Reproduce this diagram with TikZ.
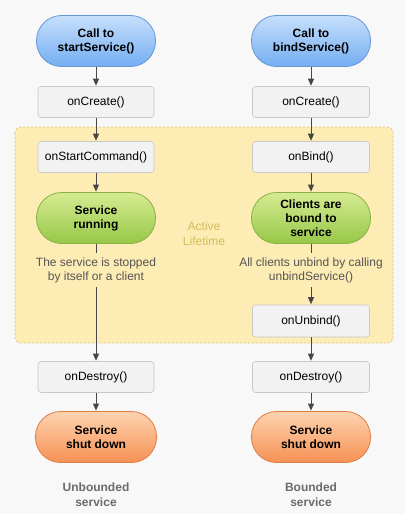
\documentclass[tikz,border=0pt]{standalone}
\usepackage{fontspec}
\setmainfont{Liberation Sans}
\usetikzlibrary{arrows.meta}
\definecolor{bgc}{HTML}{F8F8F8}
\definecolor{yelfill}{HTML}{FDECB3}
\definecolor{yelborder}{HTML}{D9C27A}
\definecolor{activec}{HTML}{D2BE5E}
\definecolor{boxfill}{HTML}{F2F2F2}
\definecolor{boxborder}{HTML}{C9C9C9}
\definecolor{linec}{HTML}{474747}
\definecolor{bluetop}{HTML}{C6DFFB}
\definecolor{bluebot}{HTML}{74AEF2}
\definecolor{blueborder}{HTML}{6597D6}
\definecolor{greentop}{HTML}{D6EB92}
\definecolor{greenbot}{HTML}{96C847}
\definecolor{greenborder}{HTML}{8AAF44}
\definecolor{orangetop}{HTML}{FDD3B0}
\definecolor{orangebot}{HTML}{F69155}
\definecolor{orangeborder}{HTML}{DD7C43}
\definecolor{desctext}{HTML}{555555}
\definecolor{labeltext}{HTML}{6B6B6B}
\tikzset{
  pill/.style={rounded corners=25pt, minimum width=119pt, minimum height=51pt,
    align=center, font=\bfseries\fontsize{12}{14}\selectfont, inner sep=0pt, line width=0.8pt},
  bluepill/.style={pill, top color=bluetop, bottom color=bluebot, draw=blueborder},
  greenpill/.style={pill, top color=greentop, bottom color=greenbot, draw=greenborder},
  orangepill/.style={pill, top color=orangetop, bottom color=orangebot, draw=orangeborder, minimum width=121pt},
  graybox/.style={draw=boxborder, fill=boxfill, rounded corners=3pt, minimum width=116pt,
    minimum height=31pt, inner sep=0pt, font=\fontsize{12}{14}\selectfont, line width=0.6pt},
  desc/.style={align=center, font=\fontsize{12}{14}\selectfont, text=desctext, inner sep=4pt},
  bottomlabel/.style={align=center, font=\bfseries\fontsize{12}{15}\selectfont, text=labeltext},
  conn/.style={draw=linec, line width=0.9pt},
  arr/.style={conn, -{Triangle[length=7pt,width=6pt]}, shorten >=0.5pt},
}
\begin{document}
\begin{tikzpicture}[x=1pt,y=-1pt]
\useasboundingbox (0,0) rectangle (406,514);
\fill[bgc] (0,0) rectangle (406,514);
% active lifetime area
\draw[yelborder, fill=yelfill, dashed, dash pattern=on 2pt off 2pt, rounded corners=6pt, line width=0.7pt]
  (15,127) rectangle (393,343);
\node[text=activec, align=center, font=\fontsize{12}{15}\selectfont] (active) at (204,234) {Active\\Lifetime};

% left column
\node[bluepill] (lcall) at (96,41) {Call to\\startService()};
\node[graybox] (lcreate) at (96,102) {onCreate()};
\node[graybox] (lstart) at (96,157) {onStartCommand()};
\node[greenpill] (lrun) at (96,218) {Service\\running};
\node[desc] (ltext) at (96,270) {The service is stopped\\by itself or a client};
\node[graybox] (ldestroy) at (96,377) {onDestroy()};
\node[orangepill] (lshut) at (96,437) {Service\\shut down};
\node[bottomlabel] (llabel) at (96,495) {Unbounded\\service};

% right column
\node[bluepill] (rcall) at (311,41) {Call to\\bindService()};
\node[graybox, minimum width=117pt] (rcreate) at (311,102) {onCreate()};
\node[graybox, minimum width=117pt] (rbind) at (311,157) {onBind()};
\node[greenpill] (rclients) at (311,218) {Clients are\\bound to\\service};
\node[desc] (rtext) at (311,270) {All clients unbind by calling\\unbindService()};
\node[graybox, minimum width=117pt, minimum height=32pt] (runbind) at (311,321) {onUnbind()};
\node[graybox, minimum width=117pt] (rdestroy) at (311,377) {onDestroy()};
\node[orangepill, minimum width=119pt] (rshut) at (311,437) {Service\\shut down};
\node[bottomlabel] (rlabel) at (311,495) {Bounded\\service};

% left connectors
\draw[arr] (lcall) -- (lcreate);
\draw[arr] (lcreate) -- (lstart);
\draw[arr] (lstart) -- (lrun);
\draw[conn] (lrun) -- (ltext);
\draw[arr] (ltext) -- (ldestroy);
\draw[arr] (ldestroy) -- (lshut);

% right connectors
\draw[arr] (rcall) -- (rcreate);
\draw[arr] (rcreate) -- (rbind);
\draw[arr] (rbind) -- (rclients);
\draw[conn] (rclients) -- (rtext);
\draw[arr] (rtext) -- (runbind);
\draw[arr] (runbind) -- (rdestroy);
\draw[arr] (rdestroy) -- (rshut);
\end{tikzpicture}
\end{document}
